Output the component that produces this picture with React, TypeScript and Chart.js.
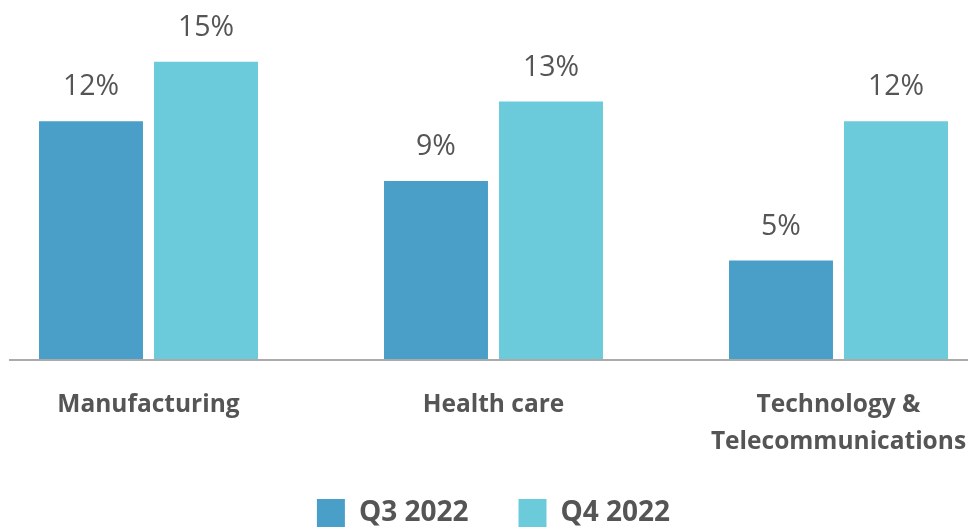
import React, { useEffect, useRef } from "react";
import { Chart, registerables } from "chart.js";

Chart.register(...registerables);

const categories: (string | string[])[] = [
  "Manufacturing",
  "Health care",
  ["Technology &", "Telecommunications"],
];
const seriesNames = ["Q3 2022", "Q4 2022"];
const q3Values = [12, 9, 5];
const q4Values = [15, 13, 12];
const seriesColors = ["#4a9fc8", "#6bcbdb"];

const FONT = "'Open Sans', 'Noto Sans', sans-serif";
const TEXT = "#555555";

const CANVAS_W = 1100;
const CANVAS_H = 537;
const OFFSET_X = -40;

const valueLabels = {
  id: "valueLabels",
  afterDatasetsDraw(chart: any) {
    const ctx = chart.ctx;
    ctx.save();
    ctx.font = `400 28.5px ${FONT}`;
    ctx.fillStyle = TEXT;
    ctx.textAlign = "center";
    ctx.textBaseline = "middle";
    chart.data.datasets.forEach((ds: any, i: number) => {
      const meta = chart.getDatasetMeta(i);
      meta.data.forEach((bar: any, j: number) => {
        ctx.fillText(`${ds.data[j]}%`, bar.x, bar.y - 34);
      });
    });
    ctx.restore();
  },
};

const axisLine = {
  id: "axisLine",
  afterDatasetsDraw(chart: any) {
    const ctx = chart.ctx;
    const y = chart.scales.y.getPixelForValue(0);
    ctx.save();
    ctx.strokeStyle = "#aaaaaa";
    ctx.lineWidth = 2;
    ctx.beginPath();
    ctx.moveTo(9 - OFFSET_X, y);
    ctx.lineTo(chart.width, y);
    ctx.stroke();
    ctx.restore();
  },
};

export default function App() {
  const ref = useRef<HTMLCanvasElement>(null);
  useEffect(() => {
    if (!ref.current) return;
    const chart = new Chart(ref.current, {
      type: "bar",
      data: {
        labels: categories,
        datasets: [
          {
            label: seriesNames[0],
            data: q3Values,
            backgroundColor: seriesColors[0],
            barPercentage: 0.904,
            categoryPercentage: 0.6667,
          },
          {
            label: seriesNames[1],
            data: q4Values,
            backgroundColor: seriesColors[1],
            barPercentage: 0.904,
            categoryPercentage: 0.6667,
          },
        ],
      },
      options: {
        responsive: false,
        animation: false,
        layout: { padding: { left: 16, right: 49, top: 2, bottom: 0 } },
        scales: {
          x: {
            grid: { display: false, drawTicks: false },
            border: { display: false },
            ticks: {
              color: TEXT,
              padding: 27,
              maxRotation: 0,
              autoSkip: false,
              font: { family: FONT, size: 24.5, weight: "bold", lineHeight: 1.5 },
            },
            afterFit: (scale: any) => {
              scale.height = 89;
            },
          },
          y: {
            display: false,
            min: 0,
            max: 18,
          },
        },
        plugins: {
          legend: {
            position: "bottom",
            labels: {
              boxWidth: 28,
              boxHeight: 28,
              padding: 50,
              color: TEXT,
              font: { family: FONT, size: 28, weight: "bold" },
            },
          },
          tooltip: { enabled: false },
        },
      },
      plugins: [valueLabels, axisLine],
    });
    return () => chart.destroy();
  }, []);

  return (
    <div
      style={{
        position: "fixed",
        left: 0,
        top: 0,
        width: 968,
        height: 529,
        overflow: "hidden",
        background: "#ffffff",
      }}
    >
      <canvas
        ref={ref}
        width={CANVAS_W}
        height={CANVAS_H}
        style={{ position: "absolute", left: OFFSET_X, top: 0, width: CANVAS_W, height: CANVAS_H }}
      />
    </div>
  );
}
